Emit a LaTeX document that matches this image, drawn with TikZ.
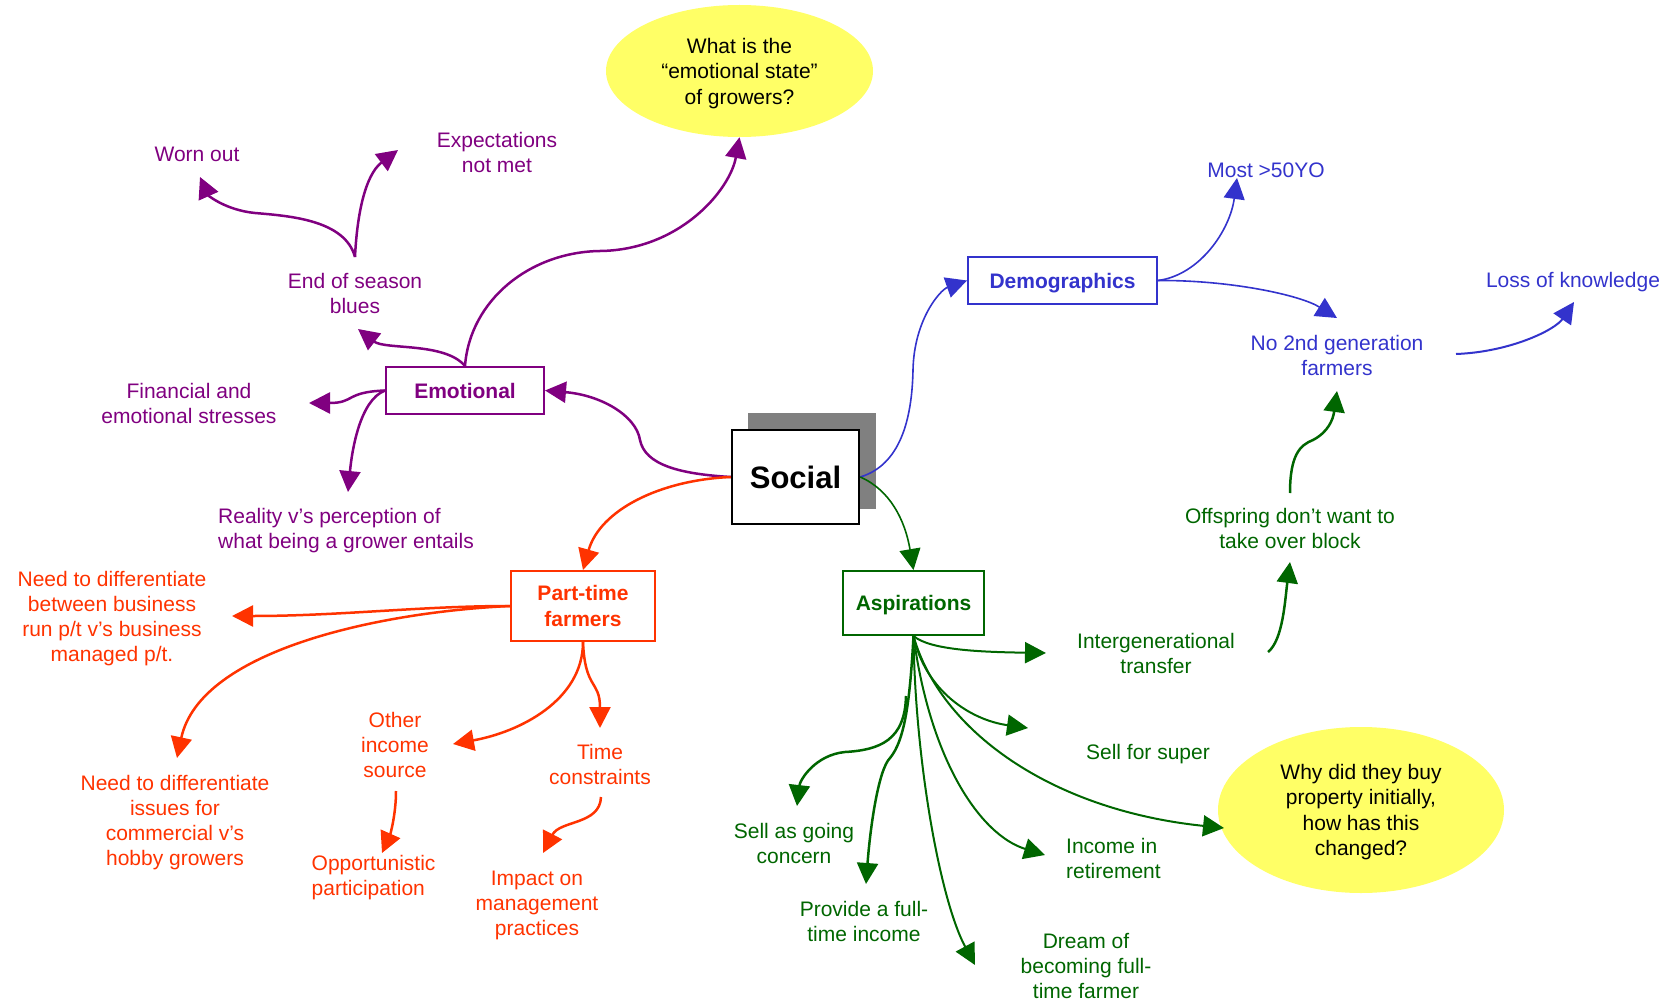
\documentclass[tikz,border=0pt]{standalone}
\usepackage{fontspec}
\setmainfont{Liberation Sans}
\usetikzlibrary{arrows.meta,shapes.geometric}
\definecolor{emo}{RGB}{128,0,128}
\definecolor{demo}{RGB}{51,51,204}
\definecolor{part}{RGB}{255,51,0}
\definecolor{aspi}{RGB}{0,102,0}
\definecolor{qfill}{RGB}{255,255,102}
\definecolor{dropgray}{RGB}{128,128,128}
\begin{document}
\begin{tikzpicture}[x=1pt,y=-1pt,
  lab/.style={font=\fontsize{21}{25}\selectfont, align=center, inner sep=0pt, text depth=0pt},
  hub/.style={draw, line width=2pt, fill=white, font=\fontsize{21}{26}\selectfont\bfseries, align=center, inner sep=0pt, text depth=0pt},
  question/.style={ellipse, fill=qfill, inner sep=0pt, font=\fontsize{21}{25.5}\selectfont, align=center, text=black, text depth=0pt},
  tipped/.style={-{Triangle[length=21pt,width=21pt]}},
  emoline/.style={tipped, draw=emo, line width=2.5pt},
  demoline/.style={tipped, draw=demo, line width=1.6pt},
  partline/.style={tipped, draw=part, line width=2.5pt},
  aspiline/.style={tipped, draw=aspi, line width=2pt}]
\useasboundingbox (0,0) rectangle (1673,1003);

% central topic with its drop shadow
\fill[dropgray] (748,413) rectangle (876,509);
\node[draw, line width=2.5pt, fill=white, minimum width=127pt, minimum height=94pt, inner sep=0pt,
      font=\fontsize{31}{36}\selectfont\bfseries] (social) at (795.5,477) {Social};

% main branches
\node[hub, draw=emo, text=emo, minimum width=158pt, minimum height=47pt] (emotional) at (465,390.5) {Emotional};
\node[hub, draw=demo, text=demo, minimum width=189pt, minimum height=47pt] (demographics) at (1062.5,280.5) {Demographics};
\node[hub, draw=part, text=part, minimum width=144pt, minimum height=70pt] (parttime) at (583,606) {Part-time\\farmers};
\node[hub, draw=aspi, text=aspi, minimum width=141pt, minimum height=64pt] (aspirations) at (913.5,603) {Aspirations};

% open questions
\node[question, minimum width=267pt, minimum height=132pt] (emostate) at (739.5,71) {What is the\\“emotional state”\\of growers?};
\node[question, minimum width=286pt, minimum height=166pt] (whybuy) at (1361,810) {Why did they buy\\property initially,\\how has this\\changed?};

% emotional leaves
\node[lab, text=emo] (worn) at (197,154) {Worn out};
\node[lab, text=emo] (expect) at (497,152) {Expectations\\not met};
\node[lab, text=emo] (blues) at (355,293) {End of season\\blues};
\node[lab, text=emo] (stress) at (189,403) {Financial and\\emotional stresses};
\node[lab, text=emo, align=left, anchor=west] (reality) at (218,528) {Reality v’s perception of\\what being a grower entails};

% demographic leaves
\node[lab, text=demo] (most) at (1266,170) {Most >50YO};
\node[lab, text=demo] (loss) at (1573,280) {Loss of knowledge};
\node[lab, text=demo] (nosecond) at (1337,355) {No 2nd generation\\farmers};

% part-time leaves
\node[lab, text=part] (diffbus) at (112,616) {Need to differentiate\\between business\\run p/t v’s business\\managed p/t.};
\node[lab, text=part] (diffhob) at (175,820) {Need to differentiate\\issues for\\commercial v’s\\hobby growers};
\node[lab, text=part] (income) at (395,745) {Other\\income\\source};
\node[lab, text=part] (timec) at (600,764) {Time\\constraints};
\node[lab, text=part, align=left, anchor=west] (opport) at (311.5,875) {Opportunistic\\participation};
\node[lab, text=part] (impact) at (537,903) {Impact on\\management\\practices};

% aspiration leaves
\node[lab, text=aspi] (offspring) at (1290,528) {Offspring don’t want to\\take over block};
\node[lab, text=aspi] (transfer) at (1156,653) {Intergenerational\\transfer};
\node[lab, text=aspi] (super) at (1148,752) {Sell for super};
\node[lab, text=aspi] (concern) at (794,843) {Sell as going\\concern};
\node[lab, text=aspi] (fullinc) at (864,921) {Provide a full-\\time income};
\node[lab, text=aspi, align=left, anchor=west] (retire) at (1066,858) {Income in\\retirement};
\node[lab, text=aspi] (dream) at (1086,966) {Dream of\\becoming full-\\time farmer};

% free ends of connectors
\coordinate (bluesTip) at (358,329);
\coordinate (bluesOut) at (355,257);
\coordinate (wornTip) at (200,177);
\coordinate (expectTip) at (398,150);
\coordinate (stressTip) at (309,403);
\coordinate (realityTip) at (348,492);
\coordinate (diffbusTip) at (232,616);
\coordinate (diffhobTip) at (177,758);
\coordinate (incomeTip) at (453,744);
\coordinate (timeTip) at (600,728);
\coordinate (incomeOut) at (396,791);
\coordinate (opportTip) at (382,853);
\coordinate (timeOut) at (601,797);
\coordinate (impactTip) at (543,853);
\coordinate (mostTip) at (1237,178);
\coordinate (nosecondTip) at (1337,318);
\coordinate (nosecondOut) at (1456,354);
\coordinate (lossTip) at (1574,302);
\coordinate (transferTip) at (1046,653);
\coordinate (transferOut) at (1268,652);
\coordinate (offspringTip) at (1290,562);
\coordinate (offspringOut) at (1290,493);
\coordinate (nosecondIn) at (1337,391);
\coordinate (superTip) at (1028,728);
\coordinate (whybuyTip) at (1224,828);
\coordinate (retireTip) at (1045,855);
\coordinate (dreamTip) at (975,965);
\coordinate (fullincTip) at (866,884);
\coordinate (concernOut) at (906,696);
\coordinate (concernTip) at (797,806);

% emotional connectors
\draw[emoline] (social.west) .. controls (680,474) and (645,465) .. (640,440)
  .. controls (636,415) and (600,395) .. (emotional.east);
\draw[emoline] (emotional.north) .. controls (470,300) and (530,252) .. (600,251)
  .. controls (680,250) and (730,190) .. (emostate.south);
\draw[emoline] (emotional.north) .. controls (445,342) and (385,350) .. (bluesTip);
\draw[emoline] (bluesOut) .. controls (345,220) and (290,216) .. (255,213)
  .. controls (225,210) and (208,195) .. (wornTip);
\draw[emoline] (bluesOut) .. controls (357,215) and (365,175) .. (expectTip);
\draw[emoline] (emotional.west) .. controls (345,392) and (355,403) .. (stressTip);
\draw[emoline] (emotional.west) .. controls (360,400) and (352,450) .. (realityTip);

% part-time connectors
\draw[partline] (social.west) .. controls (660,480) and (600,510) .. (parttime.north);
\draw[partline] (parttime.west) .. controls (420,606) and (340,616) .. (diffbusTip);
\draw[partline] (parttime.west) .. controls (380,612) and (200,650) .. (diffhobTip);
\draw[partline] (parttime.south) .. controls (583,700) and (520,732) .. (incomeTip);
\draw[partline] (parttime.south) .. controls (585,690) and (600,680) .. (timeTip);
\draw[partline] (incomeOut) .. controls (396,815) and (390,835) .. (opportTip);
\draw[partline] (timeOut) .. controls (600,825) and (560,820) .. (impactTip);

% demographic connectors
\draw[demoline] (social.east) .. controls (900,465) and (912,420) .. (913,370)
  .. controls (914,320) and (940,290) .. (demographics.west);
\draw[demoline] (demographics.east) .. controls (1200,275) and (1230,230) .. (mostTip);
\draw[demoline] (demographics.east) .. controls (1230,280) and (1300,295) .. (nosecondTip);
\draw[demoline, line width=2pt] (nosecondOut) .. controls (1510,352) and (1555,330) .. (lossTip);

% aspiration connectors
\draw[aspiline, line width=1.6pt] (social.east) .. controls (890,490) and (905,520) .. (aspirations.north);
\draw[aspiline] (aspirations.south) .. controls (930,650) and (980,652) .. (transferTip);
\draw[aspiline] (aspirations.south) .. controls (925,690) and (970,720) .. (superTip);
\draw[aspiline] (aspirations.south) .. controls (940,730) and (1050,810) .. (whybuyTip);
\draw[aspiline] (aspirations.south) .. controls (930,760) and (980,835) .. (retireTip);
\draw[aspiline] (aspirations.south) .. controls (915,760) and (940,900) .. (dreamTip);
\draw[aspiline, line width=2.5pt] (aspirations.south) .. controls (910,700) and (905,740) .. (890,758)
  .. controls (878,770) and (870,830) .. (fullincTip);
\draw[aspiline, line width=2.5pt] (concernOut) .. controls (905,740) and (880,750) .. (845,752)
  .. controls (815,755) and (800,780) .. (concernTip);
\draw[aspiline, line width=2.5pt] (transferOut) .. controls (1283,640) and (1285,600) .. (offspringTip);
\draw[aspiline, line width=2.5pt] (offspringOut) .. controls (1290,455) and (1300,445) .. (1313,440)
  .. controls (1328,432) and (1333,420) .. (nosecondIn);
\end{tikzpicture}
\end{document}
